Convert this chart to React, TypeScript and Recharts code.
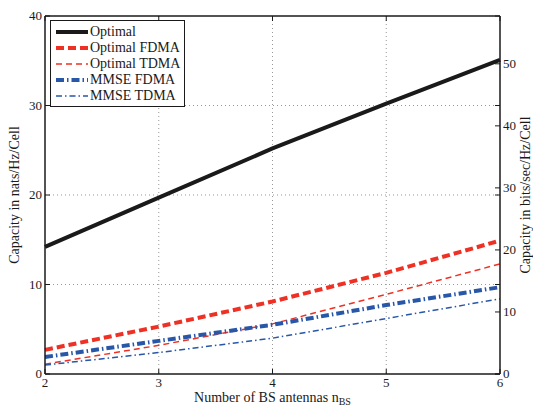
import React from 'react';
import { LineChart, Line, XAxis, YAxis, CartesianGrid, ReferenceLine } from 'recharts';

const antennas = [2, 3, 4, 5, 6];
const optimal = [14.2, 19.7, 25.2, 30.2, 35.1];
const optimalFdma = [2.7, 5.3, 8.1, 11.3, 14.9];
const optimalTdma = [1.1, 3.2, 5.6, 8.9, 12.3];
const mmseFdma = [1.9, 3.7, 5.5, 7.7, 9.7];
const mmseTdma = [1.0, 2.4, 4.0, 6.2, 8.4];

const xTicks = [2, 3, 4, 5, 6];
const natsTicks = [0, 10, 20, 30, 40];
const bitsTicks = [0, 10, 20, 30, 40, 50];

const data = antennas.map((n, i) => ({
  n,
  optimal: optimal[i],
  optimalFdma: optimalFdma[i],
  optimalTdma: optimalTdma[i],
  mmseFdma: mmseFdma[i],
  mmseTdma: mmseTdma[i],
}));

const RED = '#ee3124';
const BLUE = '#2857a8';
const BLACK = '#1a1a1a';
const FONT = '"Liberation Serif", "Times New Roman", serif';

const series = [
  { key: 'optimal', name: 'Optimal', color: BLACK, width: 4, dash: undefined },
  { key: 'optimalFdma', name: 'Optimal FDMA', color: RED, width: 4, dash: '8 4' },
  { key: 'optimalTdma', name: 'Optimal TDMA', color: RED, width: 1.5, dash: '6 4' },
  { key: 'mmseFdma', name: 'MMSE FDMA', color: BLUE, width: 4, dash: '8 3 1.5 3' },
  { key: 'mmseTdma', name: 'MMSE TDMA', color: BLUE, width: 1.5, dash: '6 3 1.5 3' },
];

const BottomTick = (props: any) => {
  const { x, y, payload } = props;
  return (
    <g>
      <line x1={x} y1={y} x2={x} y2={y - 5} stroke={BLACK} />
      <line x1={x} y1={16} x2={x} y2={21} stroke={BLACK} />
      <text x={x} y={y + 13} textAnchor="middle" fontSize={13} fontFamily={FONT} fill={BLACK}>
        {payload.value}
      </text>
    </g>
  );
};

const LeftTick = (props: any) => {
  const { x, y, payload } = props;
  return (
    <g>
      <line x1={x} y1={y} x2={x + 5} y2={y} stroke={BLACK} />
      <line x1={500} y1={y} x2={495} y2={y} stroke={BLACK} />
      <text x={x - 3} y={y + 4} textAnchor="end" fontSize={13} fontFamily={FONT} fill={BLACK}>
        {payload.value}
      </text>
    </g>
  );
};

const RightTick = (props: any) => {
  const { x, y, payload } = props;
  return (
    <g>
      <line x1={x} y1={y} x2={x - 5} y2={y} stroke={BLACK} />
      <text x={x + 3} y={y + 4} textAnchor="start" fontSize={13} fontFamily={FONT} fill={BLACK}>
        {payload.value}
      </text>
    </g>
  );
};

const XLabel = (props: any) => {
  const { viewBox } = props;
  const cx = viewBox.x + viewBox.width / 2;
  return (
    <text x={cx} y={402} textAnchor="middle" fontSize={14} fontFamily={FONT} fill={BLACK}>
      Number of BS antennas n
      <tspan fontSize={10} dy={3}>BS</tspan>
    </text>
  );
};

const SideLabel = ({ text, px, viewBox }: any) => {
  const cy = viewBox ? viewBox.y + viewBox.height / 2 : 195;
  return (
    <text
      x={px}
      y={cy}
      transform={`rotate(-90, ${px}, ${cy})`}
      textAnchor="middle"
      fontSize={14}
      fontFamily={FONT}
      fill={BLACK}
    >
      {text}
    </text>
  );
};

const Legend = () => (
  <div
    style={{
      position: 'absolute',
      left: 50,
      top: 20,
      width: 133,
      height: 85,
      border: '1.5px solid #1a1a1a',
      background: '#fff',
      fontFamily: FONT,
      fontSize: 14,
      color: BLACK,
      boxSizing: 'content-box',
    }}
  >
    {series.map((s, i) => (
      <div
        key={s.key}
        style={{ position: 'absolute', top: 3 + i * 16, left: 4, height: 16, display: 'flex', alignItems: 'center' }}
      >
        <svg width={34} height={16} style={{ display: 'block' }}>
          <line x1={1} y1={8} x2={33} y2={8} stroke={s.color} strokeWidth={s.width} strokeDasharray={s.dash} />
        </svg>
        <span style={{ marginLeft: 1, lineHeight: '16px', whiteSpace: 'nowrap' }}>{s.name}</span>
      </div>
    ))}
  </div>
);

export default function App() {
  return (
    <div style={{ position: 'absolute', left: 0, top: 0, width: 533, height: 412, background: '#fff' }}>
      <LineChart width={533} height={412} data={data} margin={{ top: 16, right: 0, bottom: 0, left: 0 }}>
        <CartesianGrid
          yAxisId="left"
          stroke="#999"
          strokeDasharray="1 3"
          horizontalValues={[10, 20, 30]}
          verticalValues={[3, 4, 5]}
        />
        <XAxis
          dataKey="n"
          type="number"
          domain={[2, 6]}
          ticks={xTicks}
          height={38}
          tickSize={0}
          tickMargin={0}
          tickLine={false}
          stroke={BLACK}
          strokeWidth={1.5}
          tick={<BottomTick />}
          label={<XLabel />}
          interval={0}
        />
        <YAxis
          yAxisId="left"
          domain={[0, 40]}
          ticks={natsTicks}
          width={45}
          tickSize={0}
          tickMargin={0}
          tickLine={false}
          stroke={BLACK}
          strokeWidth={1.5}
          tick={<LeftTick />}
          interval={0}
          label={<SideLabel text="Capacity in nats/Hz/Cell" px={19} />}
        />
        <YAxis
          yAxisId="right"
          orientation="right"
          domain={[0, 40 / Math.LN2]}
          ticks={bitsTicks}
          allowDataOverflow
          width={33}
          tickSize={0}
          tickMargin={0}
          tickLine={false}
          stroke={BLACK}
          strokeWidth={1.5}
          tick={<RightTick />}
          interval={0}
          label={<SideLabel text="Capacity in bits/sec/Hz/Cell" px={530} />}
        />
        <ReferenceLine yAxisId="left" y={40} stroke={BLACK} strokeWidth={1.5} />
        {series.map((s) => (
          <Line
            key={s.key}
            yAxisId="left"
            type="linear"
            dataKey={s.key}
            name={s.name}
            stroke={s.color}
            strokeWidth={s.width}
            strokeDasharray={s.dash}
            dot={false}
            activeDot={false}
            isAnimationActive={false}
          />
        ))}
      </LineChart>
      <Legend />
    </div>
  );
}
